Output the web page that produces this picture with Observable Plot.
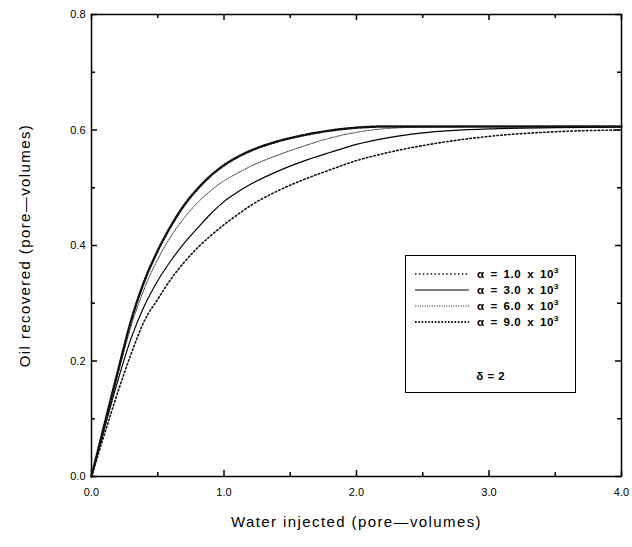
<!DOCTYPE html>
<html>
<head>
<meta charset="utf-8">
<script src="https://cdn.jsdelivr.net/npm/d3@7"></script>
<script src="https://cdn.jsdelivr.net/npm/@observablehq/plot@0.6"></script>
<style>
  body { margin: 0; background: #fff; }
  #wrap { position: relative; width: 632px; height: 547px; font-family: "Liberation Sans", Arial, sans-serif; }
  #wrap svg { font-family: "Liberation Sans", Arial, sans-serif; }
  g[aria-label="x-axis label"] text, g[aria-label="y-axis label"] text { font-size: 15px; letter-spacing: 1.4px; }
  #legend { position: absolute; left: 405px; top: 255px; width: 171px; height: 138px; border: 1.5px solid #000; background: #fff; box-sizing: border-box; }
  .row { position: absolute; left: 9px; height: 16px; display: flex; align-items: center; font-size: 11.5px; font-weight: bold; white-space: nowrap; letter-spacing: 0.6px; word-spacing: 2px; }
  .row svg { margin-right: 8px; }
  .row sup { font-size: 8px; vertical-align: 5px; line-height: 0; letter-spacing: 0; }
  #delta { position: absolute; left: 0; width: 100%; text-align: center; top: 114px; font-size: 11.5px; font-weight: bold; word-spacing: 1px; }
</style>
</head>
<body>
<div id="wrap"></div>
<script>
// ---- data ----
const waterInjected = [0, 0.1, 0.2, 0.3, 0.4, 0.5, 0.6, 0.7, 0.8, 0.9, 1.0, 1.1, 1.2, 1.4, 1.6, 1.8, 2.0, 2.2, 2.5, 3.0, 3.5, 4.0];
const oilAlpha1 = [0, 0.075, 0.147, 0.213, 0.270, 0.307, 0.342, 0.371, 0.396, 0.417, 0.436, 0.453, 0.469, 0.494, 0.514, 0.531, 0.547, 0.559, 0.573, 0.589, 0.597, 0.600];
const oilAlpha3 = [0, 0.085, 0.167, 0.240, 0.296, 0.339, 0.374, 0.404, 0.430, 0.455, 0.476, 0.492, 0.506, 0.528, 0.546, 0.561, 0.575, 0.585, 0.595, 0.602, 0.604, 0.605];
const oilAlpha6 = [0, 0.090, 0.178, 0.261, 0.326, 0.376, 0.416, 0.448, 0.474, 0.495, 0.512, 0.525, 0.537, 0.556, 0.572, 0.586, 0.596, 0.602, 0.605, 0.606, 0.606, 0.606];
const oilAlpha9 = [0, 0.092, 0.183, 0.271, 0.339, 0.391, 0.434, 0.470, 0.498, 0.521, 0.539, 0.553, 0.564, 0.580, 0.591, 0.599, 0.604, 0.606, 0.606, 0.606, 0.606, 0.606];
const alphaLabels = ["1.0", "3.0", "6.0", "9.0"];
const deltaLabel = "δ = 2";
const xMajorTicks = [0, 1, 2, 3, 4];
const xMinorTicks = [0.5, 1.5, 2.5, 3.5];
const yMajorTicks = [0, 0.2, 0.4, 0.6, 0.8];
const yMinorTicks = [0.1, 0.3, 0.5, 0.7];
const xTitle = "Water injected (pore\u2014volumes)";
const yTitle = "Oil recovered (pore\u2014volumes)";

// ---- layout / styles ----
const W = 632, H = 547, mL = 91, mR = 11, mT = 14, mB = 71;
const innerW = W - mL - mR, innerH = H - mT - mB;
const MAJOR = 6, MINOR = 4;

const seriesValues = [oilAlpha1, oilAlpha3, oilAlpha6, oilAlpha9];
const seriesStyle = [
  {strokeWidth: 1.6, strokeDasharray: "1.5,2.4", stroke: "#111"},
  {strokeWidth: 1.2, strokeDasharray: null, stroke: "#000"},
  {strokeWidth: 1.0, strokeDasharray: "1.2,1.2", stroke: "#333"},
  {strokeWidth: 2.5, strokeDasharray: "1.6,1.7", stroke: "#111"}
];

const series = seriesValues.map((vals, i) => waterInjected.map((x, j) => ({x, y: vals[j], s: alphaLabels[i]})));

const lineMarks = series.map((d, i) => Plot.line(d, {
  x: "x", y: "y", curve: "monotone-x",
  stroke: seriesStyle[i].stroke,
  strokeWidth: seriesStyle[i].strokeWidth,
  strokeDasharray: seriesStyle[i].strokeDasharray
}));

const fmt = d3.format(".1f");
const tk = {stroke: "#000", strokeWidth: 1.5};

const chart = Plot.plot({
  width: W,
  height: H,
  marginLeft: mL,
  marginRight: mR,
  marginTop: mT,
  marginBottom: mB,
  style: {fontFamily: "Liberation Sans, Arial, sans-serif", color: "#000", background: "#fff"},
  x: {domain: [0, 4]},
  y: {domain: [0, 0.8]},
  marks: [
    Plot.frame({stroke: "#000", strokeWidth: 1.5}),
    Plot.axisX(xMajorTicks, {anchor: "bottom", tickSize: 0, tickPadding: 12, tickFormat: fmt, fontSize: 11,
      label: xTitle, labelAnchor: "center", labelOffset: 50, labelArrow: "none"}),
    Plot.axisY(yMajorTicks, {anchor: "left", tickSize: 0, tickPadding: 6, tickFormat: fmt, fontSize: 11,
      label: yTitle, labelAnchor: "center", labelOffset: 72, labelArrow: "none"}),
    // inward ticks on all four sides (full-frame rules trimmed by insets)
    Plot.ruleX(xMajorTicks, {x: d => d, insetTop: innerH - MAJOR, ...tk}),
    Plot.ruleX(xMinorTicks, {x: d => d, insetTop: innerH - MINOR, ...tk}),
    Plot.ruleX(xMajorTicks, {x: d => d, insetBottom: innerH - MAJOR, ...tk}),
    Plot.ruleX(xMinorTicks, {x: d => d, insetBottom: innerH - MINOR, ...tk}),
    Plot.ruleY(yMajorTicks, {y: d => d, insetRight: innerW - MAJOR, ...tk}),
    Plot.ruleY(yMinorTicks, {y: d => d, insetRight: innerW - MINOR, ...tk}),
    Plot.ruleY(yMajorTicks, {y: d => d, insetLeft: innerW - MAJOR, ...tk}),
    Plot.ruleY(yMinorTicks, {y: d => d, insetLeft: innerW - MINOR, ...tk}),
    ...lineMarks
  ]
});

const wrap = document.getElementById("wrap");
wrap.appendChild(chart);

// ---- legend box (HTML overlay) ----
const legend = document.createElement("div");
legend.id = "legend";
alphaLabels.forEach((lab, i) => {
  const row = document.createElement("div");
  row.className = "row";
  row.style.top = (10 + i * 16) + "px";
  const st = seriesStyle[i];
  row.innerHTML =
    `<svg width="54" height="6"><line x1="0" y1="3" x2="54" y2="3" stroke="${st.stroke}" stroke-width="${Math.min(st.strokeWidth, 1.8)}" ${st.strokeDasharray ? `stroke-dasharray="${st.strokeDasharray}"` : ""}/></svg>` +
    `<span>\u03b1 = ${lab} x 10<sup>3</sup></span>`;
  legend.appendChild(row);
});
const delta = document.createElement("div");
delta.id = "delta";
delta.textContent = deltaLabel;
legend.appendChild(delta);
wrap.appendChild(legend);
</script>
</body>
</html>
